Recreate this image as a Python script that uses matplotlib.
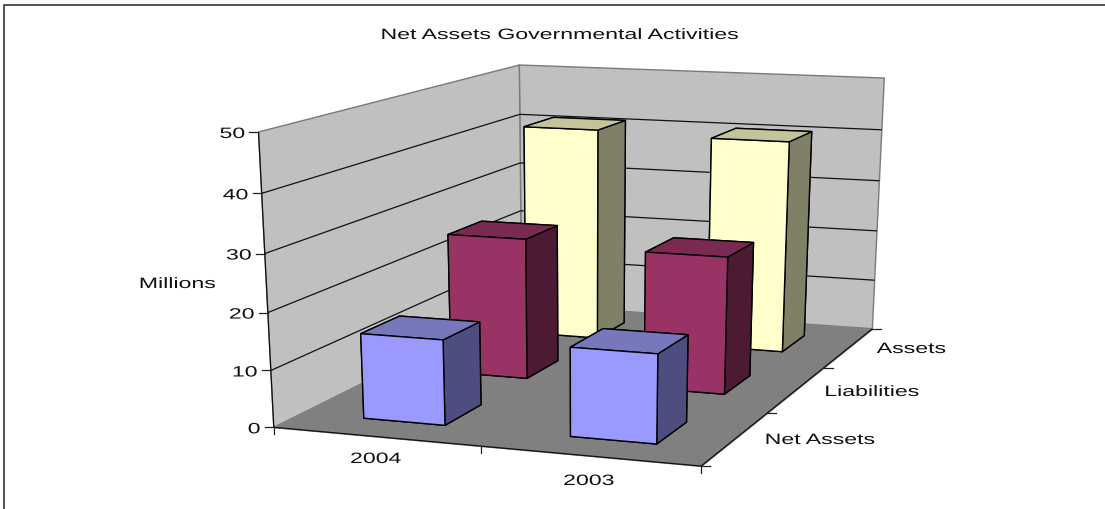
import numpy as np
import matplotlib
matplotlib.use('Agg')
import matplotlib.pyplot as plt
from matplotlib.lines import Line2D
from matplotlib.patheffects import AbstractPathEffect
from matplotlib.transforms import Affine2D
from mpl_toolkits.mplot3d.art3d import Poly3DCollection, Line3DCollection

W, H = 1105, 510

# Chart values (millions)
years = ['2004', '2003']
series = ['Net Assets', 'Liabilities', 'Assets']
net_assets = [15.0, 15.4]
liabilities = [26.0, 25.0]
assets = [41.1, 40.5]
z_ticks = [0, 10, 20, 30, 40, 50]

front_colors = ['#9999FF', '#993366', '#FFFFCC']
top_colors = ['#7777BB', '#7A2952', '#C4C49A']
side_colors = ['#4D4D80', '#4D1A33', '#808066']

BAR_W = 0.4
BAR_D = 0.42
BAR_X = 0.306

plt.rcParams['font.family'] = ['Liberation Sans', 'DejaVu Sans']


class WideText(AbstractPathEffect):
    # the labels use a horizontally stretched face, so widen the glyphs around an anchor
    def __init__(self, cx, sx=1.54):
        self.cx = cx
        self.sx = sx

    def draw_path(self, renderer, gc, tpath, affine, rgbFace=None):
        wide = affine + Affine2D().translate(-self.cx, 0).scale(self.sx, 1).translate(self.cx, 0)
        renderer.draw_path(gc, tpath, wide, rgbFace)


def label(x, y, s, ha='center'):
    fig.text(x / W, 1 - (y + 2) / H, s, ha=ha, va='center', fontsize=10.8, color='#111111',
             path_effects=[WideText(x)])


fig = plt.figure(figsize=(W / 100, H / 100), dpi=100, facecolor='white')
# square axes wider than the figure, apply_aspect leaves it alone
ax = fig.add_axes([0, (H - W) / 2 / H, 1, W / H], projection='3d', computed_zorder=False)
ax.set_axis_off()
ax.set_xlim(0, 2)
ax.set_ylim(0, 3)
ax.set_zlim(0, 50)
ax.apply_aspect()

# Camera: box corners in data units and where they sit in pixels
box = np.array([[0, 0, 0], [2, 0, 0], [2, 3, 0], [0, 3, 0], [0, 0, 50], [0, 3, 50], [2, 3, 50]], float)
box_px = np.array([[274.3, 427.7], [701, 467.7], [872.7, 329], [521, 306],
                   [258, 133], [520, 65.7], [884, 79.3]])


def fit_camera(xyz, uv):
    rows = []
    for (x, y, z), (u, v) in zip(xyz, uv):
        rows.append([x, y, z, 1, 0, 0, 0, 0, -u * x, -u * y, -u * z, -u])
        rows.append([0, 0, 0, 0, x, y, z, 1, -v * x, -v * y, -v * z, -v])
    p = np.linalg.svd(np.array(rows))[2][-1].reshape(3, 4)
    p = p / (p[2] @ [1, 1.5, 25, 1])
    return p


view_uv = ax.transData.inverted().transform(np.c_[box_px[:, 0], H - box_px[:, 1]])
cam = fit_camera(box, view_uv)
M = np.vstack([cam[0], cam[1], cam[2] - [0, 0, 0, 0.5], cam[2]])
ax.get_proj = lambda: M
cam_px = fit_camera(box, box_px)


def to_px(x, y, z):
    u, v, w = cam_px @ [x, y, z, 1]
    return u / w, v / w


def tick(x, y, z, dx, dy):
    u, v = to_px(x, y, z)
    fig.add_artist(Line2D([u / W, (u + dx) / W], [1 - v / H, 1 - (v + dy) / H], color='#222222', lw=0.9))


# walls and floor
left_wall = [(0, 0, 0), (0, 3, 0), (0, 3, 50), (0, 0, 50)]
back_wall = [(0, 3, 0), (2, 3, 0), (2, 3, 50), (0, 3, 50)]
floor = [(0, 0, 0), (2, 0, 0), (2, 3, 0), (0, 3, 0)]
walls = Poly3DCollection([left_wall, back_wall], facecolors='#C0C0C0', edgecolors='#7A7A7A', linewidths=1.0)
walls.set_zorder(0.1)
ax.add_collection3d(walls, autolim=False)
ground = Poly3DCollection([floor], facecolors='#808080', edgecolors='#808080', linewidths=0.8)
ground.set_zorder(0.2)
ax.add_collection3d(ground, autolim=False)

# gridlines run across both walls, plus the dark outer edges of the box
grid = [[(0, 0, v), (0, 3, v), (2, 3, v)] for v in z_ticks[1:-1]]
grid.append([(0, 0, 0), (0, 0, 50)])
grid.append([(0, 0, 0), (2, 0, 0), (2, 3, 0)])
lines = Line3DCollection(grid, colors='#111111', linewidths=0.9)
lines.set_zorder(0.3)
ax.add_collection3d(lines, autolim=False)

# bars, back row first, 2004 before the nearer 2003
rows = [net_assets, liabilities, assets]
order = 3
for j in [2, 1, 0]:
    for i in range(len(years)):
        x0 = i + BAR_X
        y0 = j + (1 - BAR_D) / 2
        faces = [front_colors[j], top_colors[j], front_colors[j], front_colors[j], side_colors[j], side_colors[j]]
        ax.bar3d(x0, y0, 0, BAR_W, BAR_D, rows[j][i], color=faces, edgecolor='black',
                 linewidth=1.0, shade=False, zorder=order)
        order += 1

# ticks and their labels
for v in z_ticks:
    tick(0, 0, v, -9, 0)
    u, y = to_px(0, 0, v)
    label(u - 13, y, str(v), ha='right')
for i in range(len(years) + 1):
    tick(i, 0, 0, 0, 7)
for j in range(len(series) + 1):
    tick(2, j, 0, 9, 0)

label(560, 34, 'Net Assets Governmental Activities')
label(177.5, 283, 'Millions')
label(376, 458, years[0])
label(589, 480, years[1])
label(820, 439, series[0])
label(872, 391, series[1])
label(911.5, 348, series[2])

# chart border, only the top and left edges are in frame
fig.add_artist(Line2D([3.5 / W, 3.5 / W, 1], [0, 1 - 6 / H, 1 - 6 / H], color='#333333', lw=1.2))

fig.savefig('out.png', dpi=100)
